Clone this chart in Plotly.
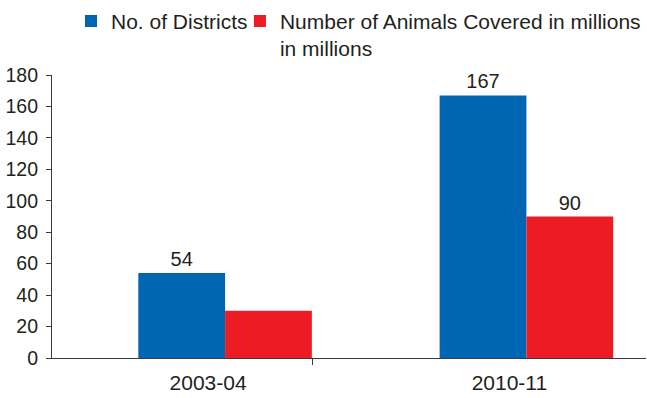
import plotly.graph_objects as go

categories = ["2003-04", "2010-11"]
districts = [54, 167]
animals = [30, 90]
district_labels = ["54", "167"]
animal_labels = ["", "90"]
y_ticks = [0, 20, 40, 60, 80, 100, 120, 140, 160, 180]

BLUE = "#0066b3"
RED = "#ed1c24"
TXT = "#231f20"
AX = "#3a3a3a"
FONT = "Liberation Sans, Arial, sans-serif"

fig = go.Figure()
fig.add_trace(go.Bar(
    x=categories, y=districts, name="No. of Districts",
    marker=dict(color=BLUE, line=dict(width=0)),
    text=district_labels, textposition="outside",
    textfont=dict(size=20, color=TXT, family=FONT), cliponaxis=False,
    legend="legend",
))
fig.add_trace(go.Bar(
    x=categories, y=animals,
    name="Number of Animals Covered in millions<br>in millions",
    marker=dict(color=RED, line=dict(width=0)),
    text=animal_labels, textposition="outside",
    textfont=dict(size=20, color=TXT, family=FONT), cliponaxis=False,
    legend="legend2",
))

leg_common = dict(
    orientation="h", xanchor="left", yanchor="top",
    font=dict(size=21, color=TXT, family=FONT), valign="top",
    itemwidth=30, bgcolor="rgba(0,0,0,0)",
)

fig.update_layout(
    width=647, height=398,
    margin=dict(l=52, r=1, t=71, b=40),
    paper_bgcolor="white", plot_bgcolor="white",
    barmode="group", bargap=0.424, bargroupgap=0,
    font=dict(family=FONT, color=TXT, size=20),
    showlegend=True,
    legend=dict(x=0.032, y=1.262, **leg_common),
    legend2=dict(x=0.3164, y=1.262, **leg_common),
    xaxis=dict(
        type="category", range=[-0.5745, 1.397],
        showline=True, linecolor=AX, linewidth=1.2,
        ticks="", showgrid=False, zeroline=False,
        tickfont=dict(size=21, color=TXT), ticklabelshift=-17,
        ticklabelstandoff=6,
        minor=dict(tickmode="array", tickvals=[0.291], ticks="outside",
                   ticklen=6, tickcolor=AX),
    ),
    yaxis=dict(
        range=[0, 180], tickvals=y_ticks,
        showline=True, linecolor=AX, linewidth=1.2,
        ticks="outside", ticklen=5, tickcolor=AX, ticklabelstandoff=4,
        showgrid=False, zeroline=False,
        tickfont=dict(size=19.5, color=TXT),
    ),
)

fig.write_html("out.html")
